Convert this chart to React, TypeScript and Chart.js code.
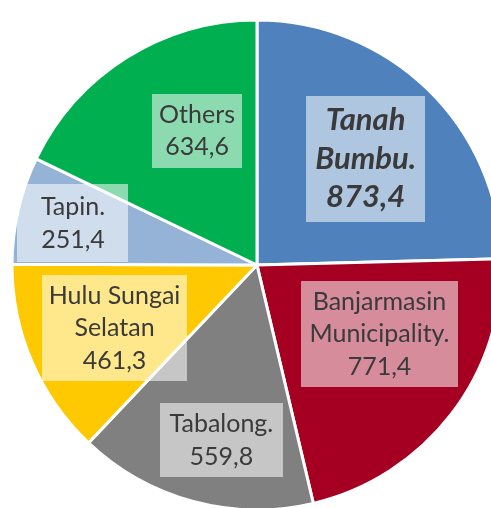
import React, { useEffect, useRef } from "react";
import { Chart, registerables } from "chart.js";

Chart.register(...registerables);

const categories: string[][] = [
  ["Tanah", "Bumbu."],
  ["Banjarmasin", "Municipality."],
  ["Tabalong."],
  ["Hulu Sungai", "Selatan"],
  ["Tapin."],
  ["Others"],
];
const values: number[] = [873.4, 771.4, 559.8, 461.3, 251.4, 634.6];
const sliceColors: string[] = ["#4f81bd", "#a50021", "#808080", "#fec900", "#95b3d7", "#00b050"];

// label placement: radial fraction of radius, angular offset (deg), box size
const labelFrac = [0.62, 0.574, 0.73, 0.636, 0.77, 0.6];
const labelAngOff = [1.4, -8.2, -3.6, -0.7, -0.2, 8.1];
const boxW = [119, 157, 123, 145, 111, 90];
const boxH = [126, 106, 74, 106, 78, 74];
const emphasized = [true, false, false, false, false, false];

const fmt = (v: number) => v.toFixed(1).replace(".", ",");

const labelPlugin = {
  id: "boxLabels",
  afterDatasetsDraw(chart: any) {
    const ctx = chart.ctx as CanvasRenderingContext2D;
    const meta = chart.getDatasetMeta(0);
    meta.data.forEach((arc: any, i: number) => {
      const p = arc.getProps(["x", "y", "startAngle", "endAngle", "outerRadius"], true);
      const mid = (p.startAngle + p.endAngle) / 2 + (labelAngOff[i] * Math.PI) / 180;
      const cx = p.x + Math.cos(mid) * p.outerRadius * labelFrac[i];
      const cy = p.y + Math.sin(mid) * p.outerRadius * labelFrac[i];
      const w = boxW[i];
      const h = boxH[i];
      ctx.save();
      ctx.fillStyle = "rgba(255,255,255,0.55)";
      ctx.fillRect(Math.round(cx - w / 2), Math.round(cy - h / 2), w, h);
      const lines = [...categories[i], fmt(values[i])];
      const big = emphasized[i];
      const fs = big ? 31 : 25;
      const lh = big ? 38.5 : 32.5;
      ctx.font = big ? `italic bold ${fs}px Lato` : `${fs}px Lato`;
      ctx.fillStyle = "#3a3a3a";
      ctx.textAlign = "center";
      ctx.textBaseline = "middle";
      const top = cy - ((lines.length - 1) * lh) / 2;
      lines.forEach((ln, k) => {
        ctx.fillText(ln, cx, top + k * lh);
      });
      ctx.restore();
    });
  },
};

export default function App() {
  const ref = useRef<HTMLCanvasElement | null>(null);
  useEffect(() => {
    document.body.style.margin = "0";
    if (!ref.current) return;
    const chart = new Chart(ref.current, {
      type: "pie",
      data: {
        labels: categories.map((c) => c.join(" ")),
        datasets: [
          {
            data: values,
            backgroundColor: sliceColors,
            borderColor: "#ffffff",
            borderWidth: 3,
            hoverOffset: 0,
            radius: 245,
          } as any,
        ],
      },
      options: {
        animation: false,
        responsive: false,
        devicePixelRatio: 1,
        layout: { padding: 0 },
        plugins: {
          legend: { display: false },
          tooltip: { enabled: false },
        },
      },
      plugins: [labelPlugin],
    });
    return () => chart.destroy();
  }, []);
  return (
    <div
      style={{
        position: "fixed",
        left: 0,
        top: 0,
        width: 491,
        height: 508,
        overflow: "hidden",
        background: "#ffffff",
      }}
    >
      <canvas
        ref={ref}
        width={520}
        height={520}
        style={{ position: "absolute", left: -3, top: 5, width: 520, height: 520 }}
      />
    </div>
  );
}
